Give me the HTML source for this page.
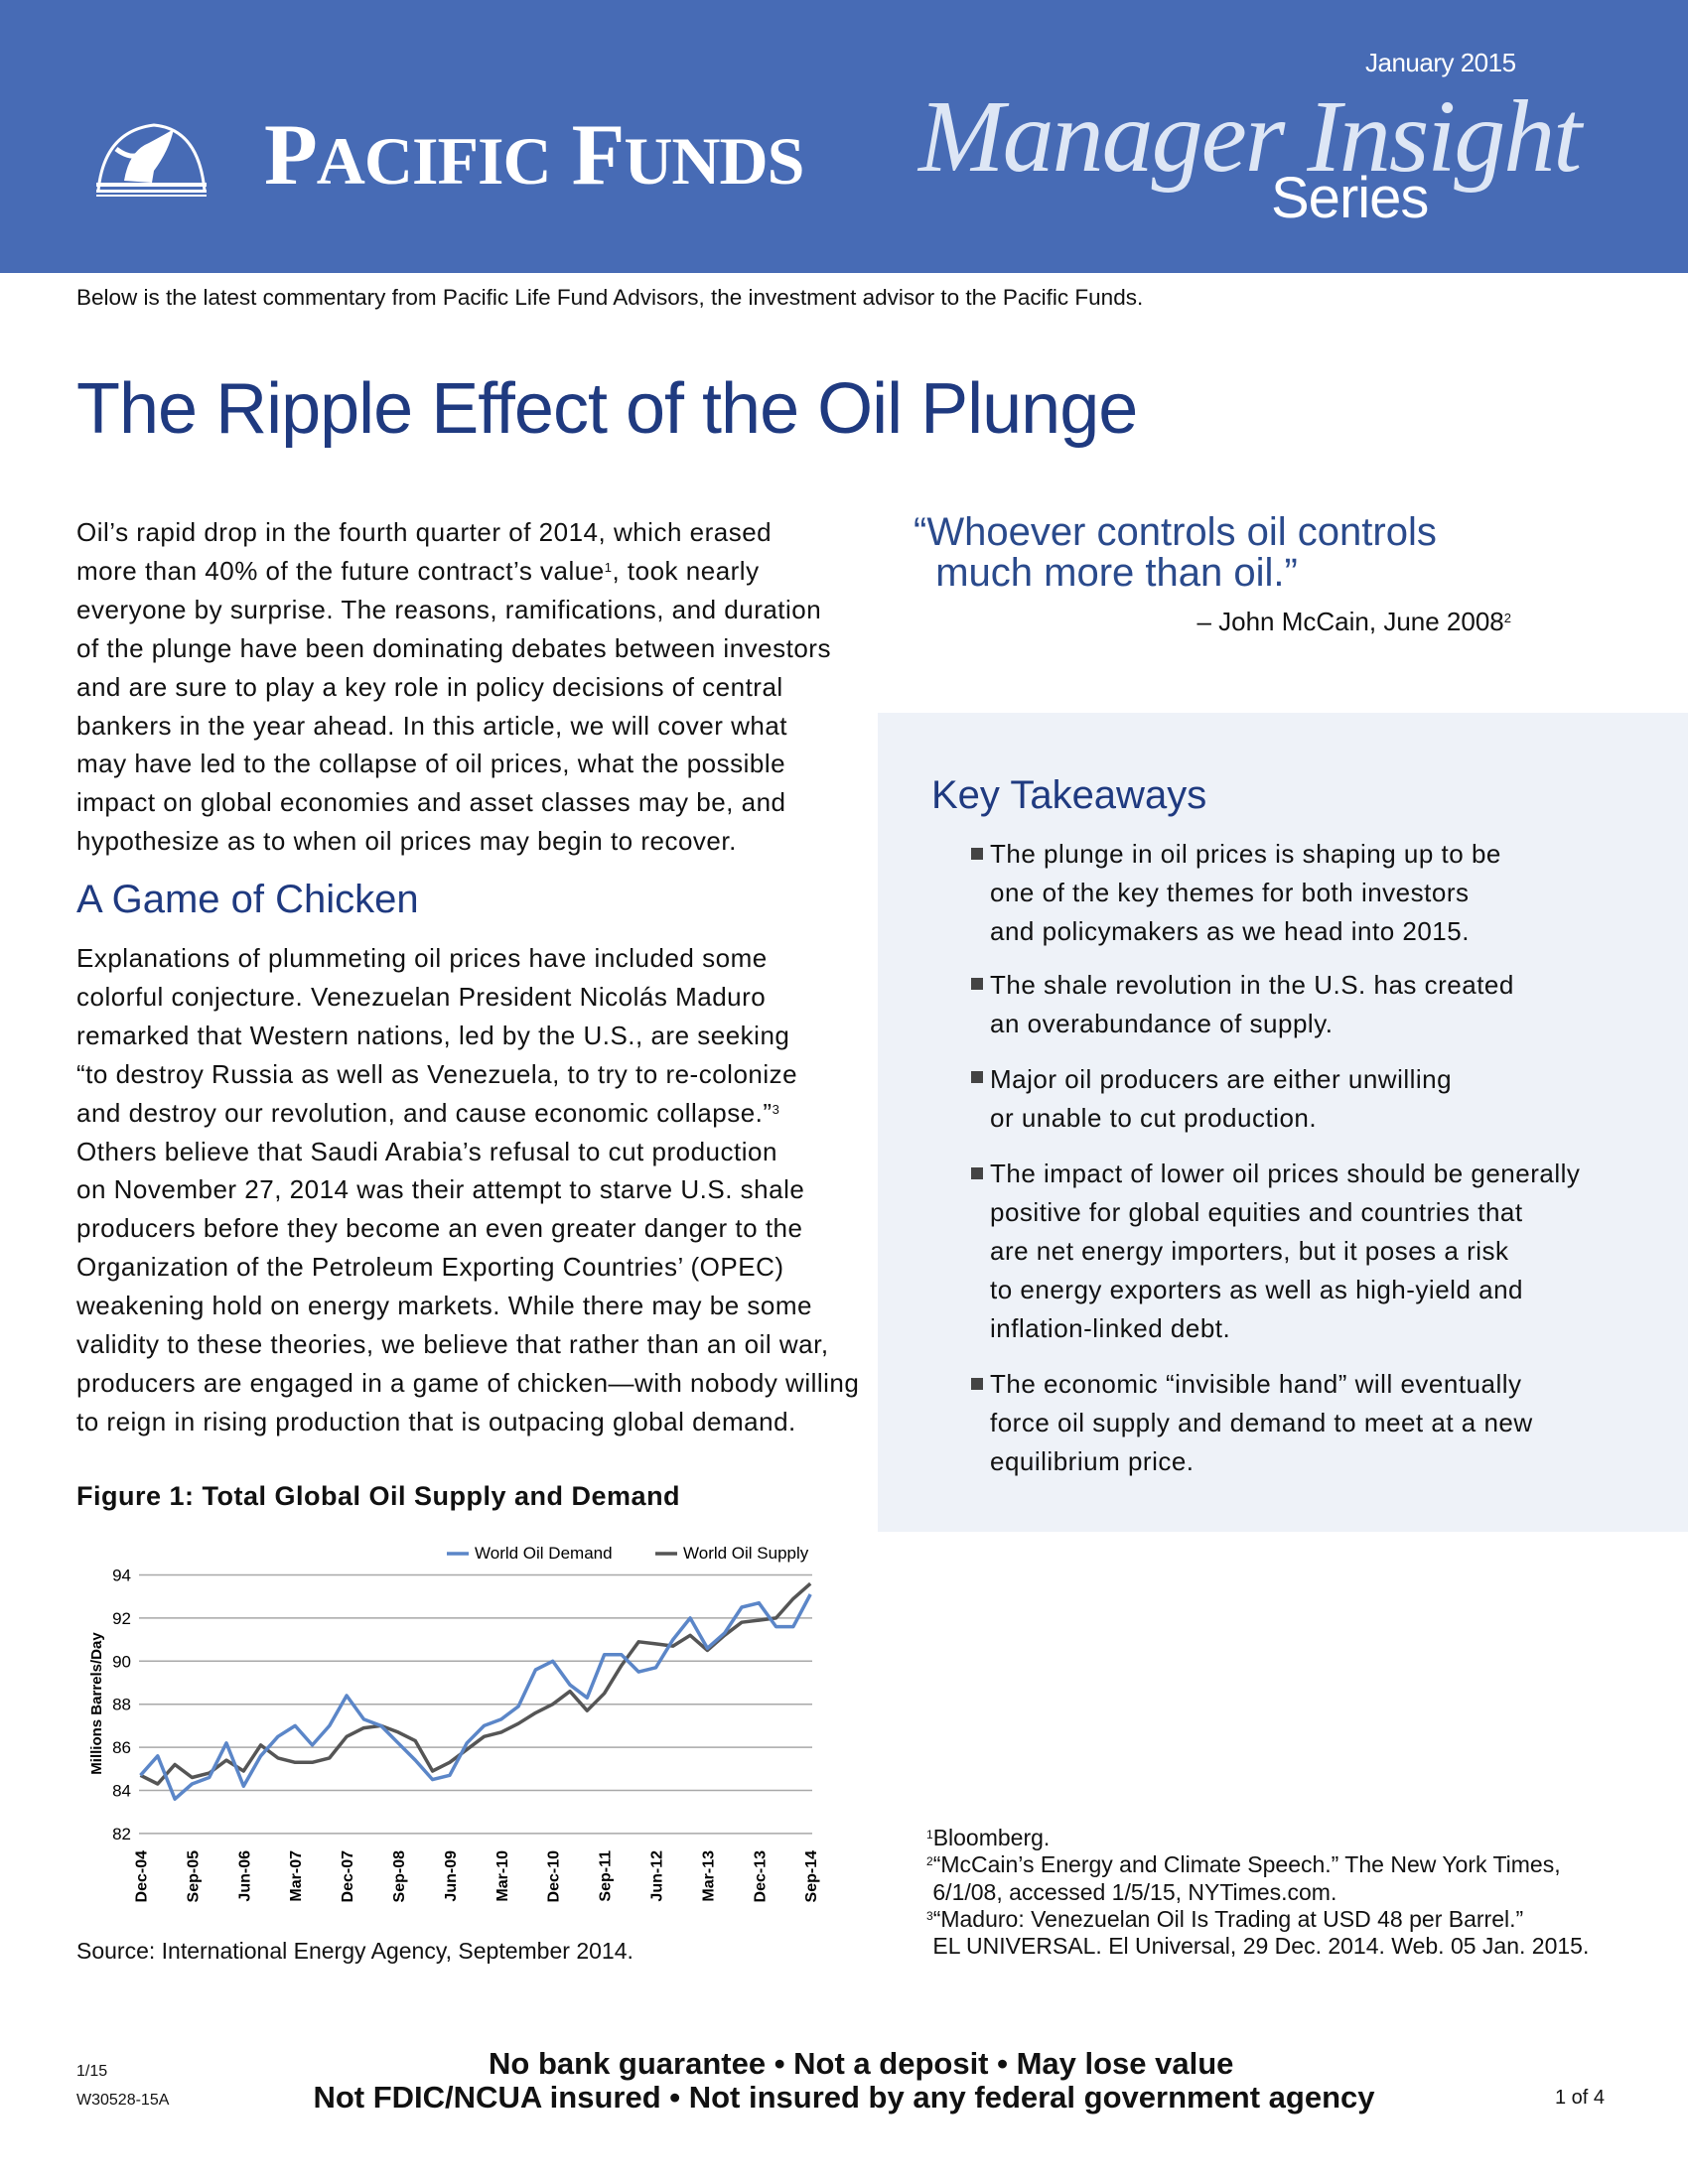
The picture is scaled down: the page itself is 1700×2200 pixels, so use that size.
<!DOCTYPE html>
<html><head><meta charset="utf-8">
<style>
*{margin:0;padding:0;box-sizing:border-box}
body{width:1700px;height:2200px;position:relative;background:#fff;font-family:"Liberation Sans",sans-serif;color:#111;overflow:hidden}
sup{line-height:0;vertical-align:0;position:relative;top:-0.6em}
.a{position:absolute;white-space:nowrap}
.banner{position:absolute;left:0;top:0;width:1700px;height:275px;background:#476bb5}
.body{font-size:26px;line-height:38.9px;letter-spacing:0.5px}
.blue{color:#1f3a80}
.box{position:absolute;left:884px;top:718px;width:816px;height:825px;background:#eef2f8}
.bul{position:absolute;left:978px;width:12px;height:12px;background:#444}
</style></head><body>
<div class="banner"></div>
<svg class="a" style="left:95px;top:122px" width="115" height="76" viewBox="0 0 115 76">
<path d="M4 70 Q10 10 60 4 Q105 8 111 70" fill="none" stroke="#fff" stroke-width="3"/>
<path d="M30 60 Q35 30 55 22 Q70 14 80 8 Q75 30 60 50 L58 62 Z" fill="#fff"/>
<path d="M22 28 Q35 38 45 34" stroke="#fff" stroke-width="5" fill="none"/>
<rect x="2" y="62" width="111" height="4" fill="#fff"/><rect x="2" y="69" width="111" height="3" fill="#fff"/><rect x="2" y="74" width="111" height="2" fill="#fff"/>
</svg>
<div class="a" style="left:266px;top:112px;font-family:'Liberation Serif',serif;font-weight:bold;color:#fff;font-size:88px;line-height:90px;letter-spacing:-1px">P<span style="font-size:68px">ACIFIC</span> F<span style="font-size:68px">UNDS</span></div>
<div class="a" style="left:1375px;top:48px;color:#fff;font-size:26px;letter-spacing:-0.5px">January 2015</div>
<div class="a" style="left:925px;top:78px;font-family:'Liberation Serif',serif;font-style:italic;color:#dde6f5;font-size:104px;line-height:120px;letter-spacing:-2px">Manager Insight</div>
<div class="a" style="left:1280px;top:168px;color:#fff;font-size:58px;line-height:64px;letter-spacing:-1px">Series</div>
<div class="a" style="left:77px;top:287px;font-size:22.5px">Below is the latest commentary from Pacific Life Fund Advisors, the investment advisor to the Pacific Funds.</div>
<div class="a blue" style="left:77px;top:370px;font-size:72px;line-height:84px;letter-spacing:-1px">The Ripple Effect of the Oil Plunge</div>

<div class="a body" style="left:77px;top:517px">Oil’s rapid drop in the fourth quarter of 2014, which erased<br>more than 40% of the future contract’s value<sup style="font-size:13px">1</sup>, took nearly<br>everyone by surprise. The reasons, ramifications, and duration<br>of the plunge have been dominating debates between investors<br>and are sure to play a key role in policy decisions of central<br>bankers in the year ahead. In this article, we will cover what<br>may have led to the collapse of oil prices, what the possible<br>impact on global economies and asset classes may be, and<br>hypothesize as to when oil prices may begin to recover.</div>
<div class="a blue" style="left:77px;top:884px;font-size:40px">A Game of Chicken</div>
<div class="a body" style="left:77px;top:946px">Explanations of plummeting oil prices have included some<br>colorful conjecture. Venezuelan President Nicolás Maduro<br>remarked that Western nations, led by the U.S., are seeking<br>“to destroy Russia as well as Venezuela, to try to re-colonize<br>and destroy our revolution, and cause economic collapse.”<sup style="font-size:13px">3</sup><br>Others believe that Saudi Arabia’s refusal to cut production<br>on November 27, 2014 was their attempt to starve U.S. shale<br>producers before they become an even greater danger to the<br>Organization of the Petroleum Exporting Countries’ (OPEC)<br>weakening hold on energy markets. While there may be some<br>validity to these theories, we believe that rather than an oil war,<br>producers are engaged in a game of chicken—with nobody willing<br>to reign in rising production that is outpacing global demand.</div>
<div class="a" style="left:77px;top:1492px;font-size:27px;font-weight:bold;letter-spacing:0.5px">Figure 1: Total Global Oil Supply and Demand</div>

<svg class="a" id="ch" style="left:0;top:1530px" width="860" height="420"></svg>
<div class="a" style="left:77px;top:1952px;font-size:23px">Source: International Energy Agency, September 2014.</div>

<div class="a" style="left:920px;top:516px;font-size:40px;line-height:41px;color:#2a4a8c">“Whoever controls oil controls<br>&nbsp;&nbsp;much more than oil.”</div>
<div class="a" style="left:1150px;top:611px;width:372px;text-align:right;font-size:26px">– John McCain, June 2008<sup style="font-size:13px">2</sup></div>

<div class="box"></div>
<div class="a blue" style="left:938px;top:779px;font-size:40px">Key Takeaways</div>
<div class="bul" style="top:854px"></div><div class="bul" style="top:985px"></div><div class="bul" style="top:1079px"></div><div class="bul" style="top:1176px"></div><div class="bul" style="top:1388px"></div>
<div class="a body" style="left:997px;top:841px">The plunge in oil prices is shaping up to be<br>one of the key themes for both investors<br>and policymakers as we head into 2015.</div>
<div class="a body" style="left:997px;top:973px">The shale revolution in the U.S. has created<br>an overabundance of supply.</div>
<div class="a body" style="left:997px;top:1068px">Major oil producers are either unwilling<br>or unable to cut production.</div>
<div class="a body" style="left:997px;top:1163px">The impact of lower oil prices should be generally<br>positive for global equities and countries that<br>are net energy importers, but it poses a risk<br>to energy exporters as well as high-yield and<br>inflation-linked debt.</div>
<div class="a body" style="left:997px;top:1375px">The economic “invisible hand” will eventually<br>force oil supply and demand to meet at a new<br>equilibrium price.</div>

<div class="a" style="left:933px;top:1838px;font-size:23px;line-height:27.3px"><sup style="font-size:12px">1</sup>Bloomberg.<br><sup style="font-size:12px">2</sup>“McCain’s Energy and Climate Speech.” The New York Times,<br>&nbsp;6/1/08, accessed 1/5/15, NYTimes.com.<br><sup style="font-size:12px">3</sup>“Maduro: Venezuelan Oil Is Trading at USD 48 per Barrel.”<br>&nbsp;EL UNIVERSAL. El Universal, 29 Dec. 2014. Web. 05 Jan. 2015.</div>

<div class="a" style="left:77px;top:2078px;font-size:16px">1/15</div>
<div class="a" style="left:77px;top:2107px;font-size:16px">W30528-15A</div>
<div class="a" style="left:0;width:1700px;text-align:center;top:2062px;font-size:31px;font-weight:bold;line-height:34px">&nbsp;&nbsp;&nbsp;&nbsp;No bank guarantee • Not a deposit • May lose value<br>Not FDIC/NCUA insured • Not insured by any federal government agency</div>
<div class="a" style="left:1566px;top:2102px;font-size:20px">1 of 4</div>

<script>
var D=[84.7,85.6,83.6,84.3,84.6,86.2,84.2,85.6,86.5,87.0,86.1,87.0,88.4,87.3,87.0,86.2,85.4,84.5,84.7,86.2,87.0,87.3,87.9,89.6,90.0,88.9,88.3,90.3,90.3,89.5,89.7,91.0,92.0,90.6,91.3,92.5,92.7,91.6,91.6,93.1];
var S=[84.7,84.3,85.2,84.6,84.8,85.4,84.9,86.1,85.5,85.3,85.3,85.5,86.5,86.9,87.0,86.7,86.3,84.9,85.3,85.9,86.5,86.7,87.1,87.6,88.0,88.6,87.7,88.5,89.8,90.9,90.8,90.7,91.2,90.5,91.2,91.8,91.9,92.0,92.9,93.6];
function X(i){return 141.5+i*17.3}
function Y(v){return 56.5+(94-v)*21.7}
var s='';
for(var v=82;v<=94;v+=2){s+='<line x1="140" x2="818" y1="'+Y(v)+'" y2="'+Y(v)+'" stroke="#a8a8a8" stroke-width="1.5"/>';
s+='<text x="132" y="'+(Y(v)+6)+'" text-anchor="end" font-size="17" font-family="Liberation Sans" >'+v+'</text>';}
var labs=['Dec-04','Sep-05','Jun-06','Mar-07','Dec-07','Sep-08','Jun-09','Mar-10','Dec-10','Sep-11','Jun-12','Mar-13','Dec-13','Sep-14'];
for(var k=0;k<labs.length;k++){var x=X(k*3)+6;s+='<text transform="translate('+x+',334) rotate(-90)" text-anchor="end" font-size="16" font-weight="bold" font-family="Liberation Sans">'+labs[k]+'</text>';}
s+='<text transform="translate(102,186) rotate(-90)" text-anchor="middle" font-size="15" font-weight="bold" font-family="Liberation Sans">Millions Barrels/Day</text>';
function pl(a,c){var p=a.map(function(v,i){return X(i).toFixed(1)+','+Y(v).toFixed(1)}).join(' ');return '<polyline points="'+p+'" fill="none" stroke="'+c+'" stroke-width="3.5" stroke-linejoin="round"/>';}
s+=pl(S,'#555555')+pl(D,'#5b86c8');
s+='<line x1="450" x2="472" y1="35" y2="35" stroke="#5b86c8" stroke-width="3.5"/><text x="478" y="40" font-size="17" font-family="Liberation Sans">World Oil Demand</text>';
s+='<line x1="660" x2="682" y1="35" y2="35" stroke="#555" stroke-width="3.5"/><text x="688" y="40" font-size="17" font-family="Liberation Sans">World Oil Supply</text>';
document.getElementById('ch').innerHTML=s;
</script>
</body></html>
